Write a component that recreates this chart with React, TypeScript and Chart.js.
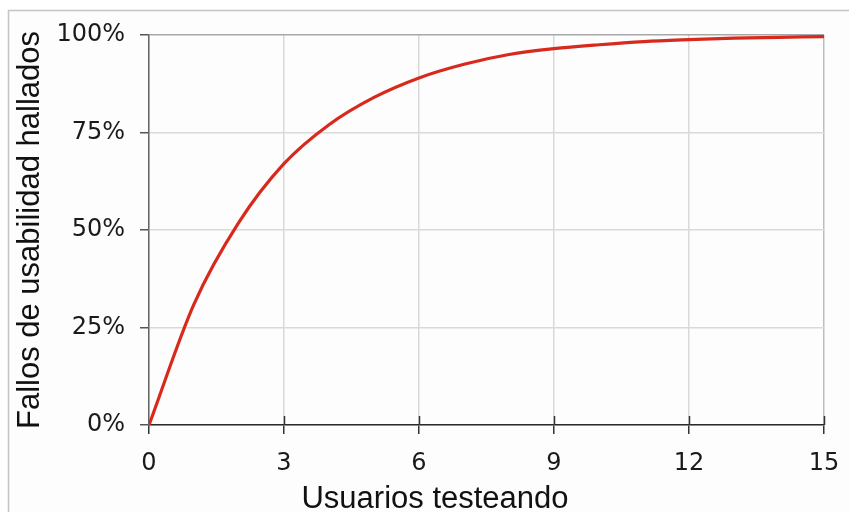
import React, { useEffect, useRef } from "react";
import { Chart, registerables } from "chart.js";

Chart.register(...registerables);

const usersTested: number[] = [0, 1, 2, 3, 4, 5, 6, 7, 8, 9, 10, 11, 12, 13, 14, 15];
const problemsFound: number[] = [0, 31, 52, 67, 77, 84, 89, 92.5, 95, 96.5, 97.5, 98.3, 98.8, 99.2, 99.4, 99.6];
const xTickValues: number[] = [0, 3, 6, 9, 12, 15];
const yTickValues: number[] = [0, 25, 50, 75, 100];
const xTitle = "Usuarios testeando";
const yTitle = "Fallos de usabilidad hallados";

const TICK_FONT = '"DejaVu Sans", Verdana, sans-serif';
const TITLE_FONT = '"Liberation Sans", Arial, sans-serif';

export default function App() {
  const ref = useRef<HTMLCanvasElement | null>(null);

  useEffect(() => {
    if (!ref.current) return;

    const framePlugin = {
      id: "frame",
      beforeDraw(chart: any) {
        const ctx = chart.ctx;
        ctx.save();
        ctx.fillStyle = "#ffffff";
        ctx.fillRect(0, 0, chart.width, chart.height);
        ctx.fillStyle = "#fdfdfd";
        ctx.fillRect(9, 11, chart.width - 9, chart.height - 11);
        ctx.strokeStyle = "#c4c4c4";
        ctx.lineWidth = 1.5;
        ctx.beginPath();
        ctx.moveTo(8.5, chart.height);
        ctx.lineTo(8.5, 10.5);
        ctx.lineTo(chart.width, 10.5);
        ctx.stroke();
        ctx.restore();
      },
      afterDraw(chart: any) {
        const ctx = chart.ctx;
        const xs = chart.scales.x;
        const area = chart.chartArea;
        ctx.save();
        // inner tick marks on x axis
        ctx.strokeStyle = "#333333";
        ctx.lineWidth = 1.5;
        xTickValues.forEach((v) => {
          if (v === 0) return;
          const px = Math.round(xs.getPixelForValue(v)) + 0.5;
          ctx.beginPath();
          ctx.moveTo(px, area.bottom - 9);
          ctx.lineTo(px, area.bottom);
          ctx.stroke();
        });
        // x axis title
        ctx.fillStyle = "#111111";
        ctx.font = "31px " + TITLE_FONT;
        ctx.textAlign = "center";
        ctx.textBaseline = "alphabetic";
        ctx.fillText(xTitle, 435, 508);
        ctx.restore();
      },
    };

    const chart = new Chart(ref.current, {
      type: "line",
      data: {
        datasets: [
          {
            data: usersTested.map((u, i) => ({ x: u, y: problemsFound[i] })),
            borderColor: "#d8291d",
            borderWidth: 3.2,
            pointRadius: 0,
            cubicInterpolationMode: "monotone",
            fill: false,
          },
        ],
      },
      options: {
        animation: false,
        responsive: false,
        layout: { padding: { left: 0, right: 25, top: 35, bottom: 0 } },
        plugins: { legend: { display: false }, tooltip: { enabled: false } },
        scales: {
          x: {
            type: "linear",
            min: 0,
            max: 15,
            afterFit: (s: any) => {
              s.height = 87;
              s.paddingLeft = 0;
              s.paddingRight = 0;
            },
            afterBuildTicks: (s: any) => {
              s.ticks = xTickValues.map((v) => ({ value: v }));
            },
            ticks: {
              color: "#1a1a1a",
              font: { family: TICK_FONT, size: 24 },
              padding: 15,
              maxRotation: 0,
              callback: (v: any) => String(v),
            },
            grid: {
              color: (c: any) => (c.tick && c.tick.value === 15 ? "#bdbdbd" : "#d9d9d9"),
              lineWidth: 1.5,
              tickColor: "#333333",
              tickLength: 9,
            },
            border: { display: true, color: "#2a2a2a", width: 1.5 },
          },
          y: {
            type: "linear",
            min: 0,
            max: 100,
            afterFit: (s: any) => {
              s.width = 149;
              s.paddingTop = 0;
              s.paddingBottom = 0;
            },
            afterBuildTicks: (s: any) => {
              s.ticks = yTickValues.map((v) => ({ value: v }));
            },
            ticks: {
              color: "#1a1a1a",
              font: { family: TICK_FONT, size: 24 },
              padding: 15,
              callback: (v: any) => v + "%",
            },
            grid: {
              color: (c: any) => (c.tick && c.tick.value === 100 ? "#a8a8a8" : "#d9d9d9"),
              lineWidth: 1.5,
              tickColor: "#555555",
              tickLength: 9,
            },
            border: { display: true, color: "#666666", width: 1.5 },
            title: {
              display: true,
              text: yTitle,
              color: "#111111",
              font: { family: TITLE_FONT, size: 31 },
              padding: { top: 12, bottom: 0 },
            },
          },
        },
      },
      plugins: [framePlugin],
    } as any);

    return () => chart.destroy();
  }, []);

  return (
    <div style={{ position: "fixed", left: 0, top: 0, width: 849, height: 512 }}>
      <canvas ref={ref} width={849} height={512} style={{ display: "block", width: 849, height: 512 }} />
    </div>
  );
}
